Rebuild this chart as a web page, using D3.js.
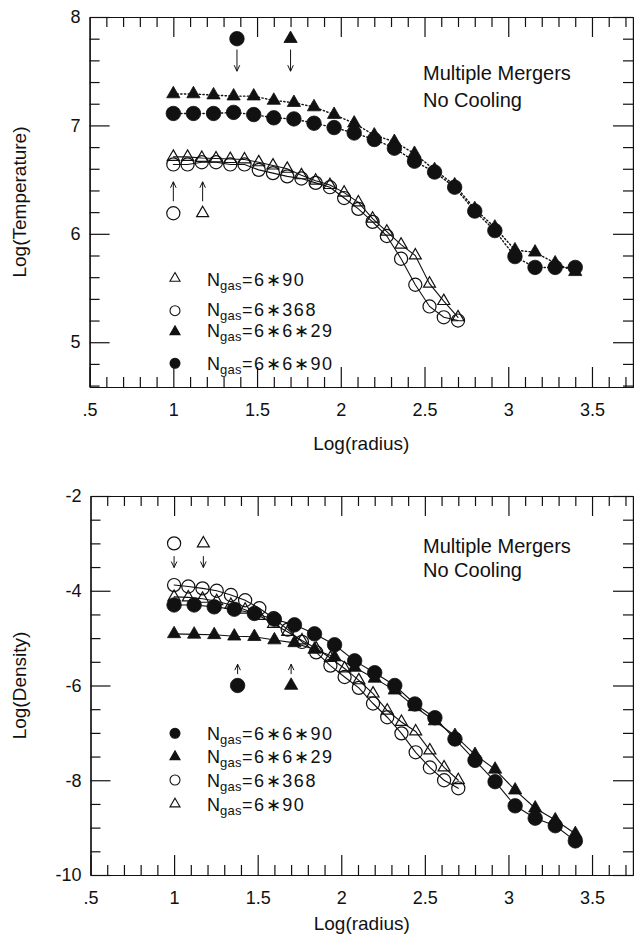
<!DOCTYPE html>
<html>
<head>
<meta charset="utf-8">
<script src="https://cdn.jsdelivr.net/npm/d3@7"></script>
<style>
  body { margin: 0; background: #fff; }
  svg text { font-family: "Liberation Sans", Arial, Helvetica, sans-serif; fill: #111; }
  .axis path, .axis line { stroke: #111; stroke-width: 1.2; }
  .axis text { font-size: 18px; }
</style>
</head>
<body>
<svg id="chart" width="634" height="938"></svg>
<script>
// ── Data: Log(radius) sample points ───────────────────────────────
const rFine   = [1.000, 1.085, 1.170, 1.255, 1.340, 1.425, 1.510, 1.595, 1.680, 1.765, 1.850,
                 1.935, 2.020, 2.105, 2.190, 2.275, 2.360, 2.445, 2.530, 2.615, 2.700];
const rCoarse = [1.00, 1.12, 1.24, 1.36, 1.48, 1.60, 1.72, 1.84, 1.96, 2.08, 2.20,
                 2.32, 2.44, 2.56, 2.68, 2.80, 2.92, 3.04, 3.16, 3.28, 3.40];

// Log(Temperature)
const temp6x90   = [6.71, 6.71, 6.70, 6.695, 6.69, 6.686, 6.66, 6.63, 6.60, 6.54, 6.49,
                    6.45, 6.38, 6.29, 6.14, 6.02, 5.90, 5.80, 5.54, 5.38, 5.23];
const temp6x368  = [6.64, 6.64, 6.66, 6.66, 6.64, 6.64, 6.59, 6.56, 6.53, 6.51, 6.47,
                    6.43, 6.33, 6.23, 6.11, 5.98, 5.77, 5.53, 5.33, 5.23, 5.20];
const temp6x6x29 = [7.29, 7.29, 7.28, 7.27, 7.27, 7.23, 7.21, 7.17, 7.10, 7.02, 6.91,
                    6.85, 6.74, 6.59, 6.45, 6.23, 6.06, 5.85, 5.83, 5.73, 5.65];
const temp6x6x90 = [7.11, 7.11, 7.11, 7.12, 7.10, 7.07, 7.06, 7.02, 6.98, 6.93, 6.87,
                    6.79, 6.67, 6.57, 6.43, 6.21, 6.03, 5.79, 5.69, 5.69, 5.69];

// Log(Density)
const dens6x90   = [-4.13, -4.14, -4.17, -4.22, -4.30, -4.40, -4.53, -4.70, -4.87, -5.05, -5.22,
                    -5.42, -5.64, -5.89, -6.17, -6.53, -6.77, -6.97, -7.37, -7.73, -8.00];
const dens6x368  = [-3.88, -3.91, -3.95, -4.00, -4.09, -4.20, -4.37, -4.58, -4.82, -5.08, -5.30,
                    -5.58, -5.82, -6.05, -6.38, -6.67, -7.01, -7.41, -7.73, -8.00, -8.17];
const dens6x6x29 = [-4.91, -4.92, -4.93, -4.96, -4.97, -5.04, -5.10, -5.24, -5.40, -5.62, -5.85,
                    -6.10, -6.45, -6.75, -7.06, -7.46, -7.77, -8.21, -8.59, -8.84, -9.13];
const dens6x6x90 = [-4.30, -4.30, -4.34, -4.39, -4.48, -4.60, -4.72, -4.91, -5.14, -5.48, -5.73,
                    -6.00, -6.39, -6.68, -7.13, -7.58, -8.03, -8.54, -8.80, -8.96, -9.28];

// Resolution markers: [log r, value, arrow start, arrow end]
const tempMarks = [[1.38, 7.80, 7.70, 7.50], [1.70, 7.80, 7.70, 7.50],
                   [1.00, 6.19, 6.30, 6.48], [1.175, 6.19, 6.30, 6.48]];
const densMarks = [[1.00, -3.0, -3.27, -3.51], [1.175, -3.0, -3.27, -3.51],
                   [1.38, -6.0, -5.76, -5.55], [1.70, -6.0, -5.76, -5.55]];

// Axis ticks
const xMajor      = [0.5, 1, 1.5, 2, 2.5, 3, 3.5];
const xTickLabels = ['.5', '1', '1.5', '2', '2.5', '3', '3.5'];
const tempMajor   = [5, 6, 7, 8];
const densMajor   = [-10, -8, -6, -4, -2];

const legendTemp = ['6∗90', '6∗368', '6∗6∗29', '6∗6∗90'];
const legendDens = ['6∗6∗90', '6∗6∗29', '6∗368', '6∗90'];

// ── Setup ─────────────────────────────────────────────────────────
const svg = d3.select('#chart');
svg.append('rect').attr('width', 634).attr('height', 938).attr('fill', '#fff');

const SYM = {
  circle:   { type: d3.symbolCircle,   size: 165, legend: 78 },
  triangle: { type: d3.symbolTriangle, size: 76,  legend: 44 },
};

const panels = [
  {
    top: 17, bottom: 387, left: 89.6, right: 633,
    yDomain: [4.587, 8], yMajor: tempMajor, yMinorStep: 0.2,
    yTitle: 'Log(Temperature)',
    series: [
      { r: rFine,   v: temp6x90,   shape: 'triangle', filled: false, dash: null },
      { r: rFine,   v: temp6x368,  shape: 'circle',   filled: false, dash: null },
      { r: rCoarse, v: temp6x6x29, shape: 'triangle', filled: true,  dash: '1.3 2.4' },
      { r: rCoarse, v: temp6x6x90, shape: 'circle',   filled: true,  dash: '1.3 2.4' },
    ],
    marks: tempMarks,
    markShapes: [['circle', true], ['triangle', true], ['circle', false], ['triangle', false]],
    legend: legendTemp,
    legendShapes: [['triangle', false], ['circle', false], ['triangle', true], ['circle', true]],
    legendSymY: [278.3, 310.7, 331.7, 363.3],
    legendTextY: [286, 316, 336.7, 370],
    noteY: [80, 106.5],
    xTitleY: 450,
  },
  {
    top: 496, bottom: 875, left: 90.5, right: 633,
    yDomain: [-10, -2], yMajor: densMajor, yMinorStep: 0.5,
    yTitle: 'Log(Density)',
    series: [
      { r: rFine,   v: dens6x90,   shape: 'triangle', filled: false, dash: null },
      { r: rFine,   v: dens6x368,  shape: 'circle',   filled: false, dash: null },
      { r: rCoarse, v: dens6x6x29, shape: 'triangle', filled: true,  dash: null },
      { r: rCoarse, v: dens6x6x90, shape: 'circle',   filled: true,  dash: null },
    ],
    marks: densMarks,
    markShapes: [['circle', false], ['triangle', false], ['circle', true], ['triangle', true]],
    legend: legendDens,
    legendShapes: [['circle', true], ['triangle', true], ['circle', false], ['triangle', false]],
    legendSymY: [733.3, 756.7, 780, 804],
    legendTextY: [740, 763.3, 786.7, 810.7],
    noteY: [552.5, 577],
    xTitleY: 930,
  },
];

panels.forEach(drawPanel);

// ── Panel ─────────────────────────────────────────────────────────
function drawPanel(p) {
  const x = d3.scaleLinear().domain([0.5, 3.745]).range([p.left, p.right]);
  const y = d3.scaleLinear().domain(p.yDomain).range([p.bottom, p.top]);
  const g = svg.append('g');

  drawAxes(g, x, y, p);

  // lines
  const line = d3.line().x(d => x(d[0])).y(d => y(d[1]));
  p.series.forEach(s => {
    const pts = s.r.map((r, i) => [r, s.v[i]]);
    g.append('path')
      .attr('d', line(pts))
      .attr('fill', 'none')
      .attr('stroke', '#111')
      .attr('stroke-width', s.dash ? 1.4 : 1.1)
      .attr('stroke-linecap', 'round')
      .attr('stroke-dasharray', s.dash);
  });

  // markers
  p.series.forEach(s => {
    const sym = SYM[s.shape];
    g.append('g').selectAll('path')
      .data(s.r.map((r, i) => [r, s.v[i]]))
      .join('path')
        .attr('transform', d => `translate(${x(d[0])},${y(d[1])})`)
        .attr('d', d3.symbol(sym.type, s.filled ? sym.size : sym.size * 0.82))
        .attr('fill', s.filled ? '#111' : 'none')
        .attr('stroke', '#111')
        .attr('stroke-width', s.filled ? 0.8 : 1.2);
  });

  // resolution markers with arrows
  p.marks.forEach((m, i) => {
    const [shape, filled] = p.markShapes[i];
    const sym = SYM[shape];
    g.append('path')
      .attr('transform', `translate(${x(m[0])},${y(m[1])})`)
      .attr('d', d3.symbol(sym.type, filled ? sym.size : sym.size * 0.82))
      .attr('fill', filled ? '#111' : 'none')
      .attr('stroke', '#111')
      .attr('stroke-width', filled ? 0.8 : 1.2);
    drawArrow(g, x(m[0]), y(m[2]), y(m[3]));
  });

  // legend
  p.legend.forEach((lab, i) => {
    const [shape, filled] = p.legendShapes[i];
    const sym = SYM[shape];
    g.append('path')
      .attr('transform', `translate(175,${p.legendSymY[i]})`)
      .attr('d', d3.symbol(sym.type, sym.legend))
      .attr('fill', filled ? '#111' : 'none')
      .attr('stroke', '#111')
      .attr('stroke-width', 1.1);
    const t = g.append('text')
      .attr('x', 207)
      .attr('y', p.legendTextY[i])
      .attr('font-size', 18);
    t.append('tspan').text('N');
    t.append('tspan').attr('dy', 4).attr('font-size', 13).attr('letter-spacing', 0.3).text('gas');
    t.append('tspan').attr('dy', -4).attr('letter-spacing', 1.6).text('=' + lab);
  });

  // note
  g.append('text').attr('x', 423).attr('y', p.noteY[0]).attr('font-size', 20).text('Multiple Mergers');
  g.append('text').attr('x', 423).attr('y', p.noteY[1]).attr('font-size', 20).text('No Cooling');

  // axis titles
  g.append('text')
    .attr('x', (p.left + p.right) / 2)
    .attr('y', p.xTitleY)
    .attr('text-anchor', 'middle')
    .attr('font-size', 19)
    .text('Log(radius)');
  g.append('text')
    .attr('transform', `translate(26,${(p.top + p.bottom) / 2}) rotate(-90)`)
    .attr('text-anchor', 'middle')
    .attr('font-size', 19)
    .text(p.yTitle);
}

function drawAxes(g, x, y, p) {
  const xMinor = d3.range(6, 38).map(d => d / 10).filter(d => !xMajor.includes(d));
  const [y0, y1] = p.yDomain;
  const yMinor = d3.range(Math.ceil(y0 / p.yMinorStep), Math.floor(y1 / p.yMinorStep) + 1)
    .map(d => +(d * p.yMinorStep).toFixed(2))
    .filter(d => !p.yMajor.includes(d));
  const xMajorIn = xMajor.filter(d => d > 0.5);

  const add = (axis, tr) => g.append('g').attr('class', 'axis').attr('transform', tr).call(axis);

  // bottom
  add(d3.axisBottom(x).tickValues(xMinor).tickSizeInner(-10).tickSizeOuter(0).tickFormat(''),
      `translate(0,${p.bottom})`);
  add(d3.axisBottom(x).tickValues(xMajor).tickSizeInner(-20).tickSizeOuter(0).tickPadding(16)
        .tickFormat(d => xTickLabels[xMajor.indexOf(d)]),
      `translate(0,${p.bottom})`);
  // top
  add(d3.axisTop(x).tickValues(xMinor).tickSizeInner(-10).tickSizeOuter(0).tickFormat(''),
      `translate(0,${p.top})`);
  add(d3.axisTop(x).tickValues(xMajorIn).tickSizeInner(-20).tickSizeOuter(0).tickFormat(''),
      `translate(0,${p.top})`);
  // left
  add(d3.axisLeft(y).tickValues(yMinor).tickSizeInner(-10).tickSizeOuter(0).tickFormat(''),
      `translate(${p.left},0)`);
  add(d3.axisLeft(y).tickValues(p.yMajor).tickSizeInner(-20).tickSizeOuter(0).tickPadding(9)
        .tickFormat(d => String(d)),
      `translate(${p.left},0)`);
  // right
  add(d3.axisRight(y).tickValues(yMinor).tickSizeInner(-10).tickSizeOuter(0).tickFormat(''),
      `translate(${p.right},0)`);
  add(d3.axisRight(y).tickValues(p.yMajor).tickSizeInner(-20).tickSizeOuter(0).tickFormat(''),
      `translate(${p.right},0)`);

  g.selectAll('.axis text').attr('font-family', '"Liberation Sans", Arial, sans-serif');
}

function drawArrow(g, cx, yFrom, yTo) {
  const dir = yTo > yFrom ? 1 : -1;
  g.append('line')
    .attr('x1', cx).attr('x2', cx)
    .attr('y1', yFrom).attr('y2', yTo)
    .attr('stroke', '#111').attr('stroke-width', 1);
  g.append('path')
    .attr('d', `M${cx - 2.8},${yTo - dir * 6}L${cx},${yTo}L${cx + 2.8},${yTo - dir * 6}`)
    .attr('fill', 'none')
    .attr('stroke', '#111')
    .attr('stroke-width', 1);
}
</script>
</body>
</html>
